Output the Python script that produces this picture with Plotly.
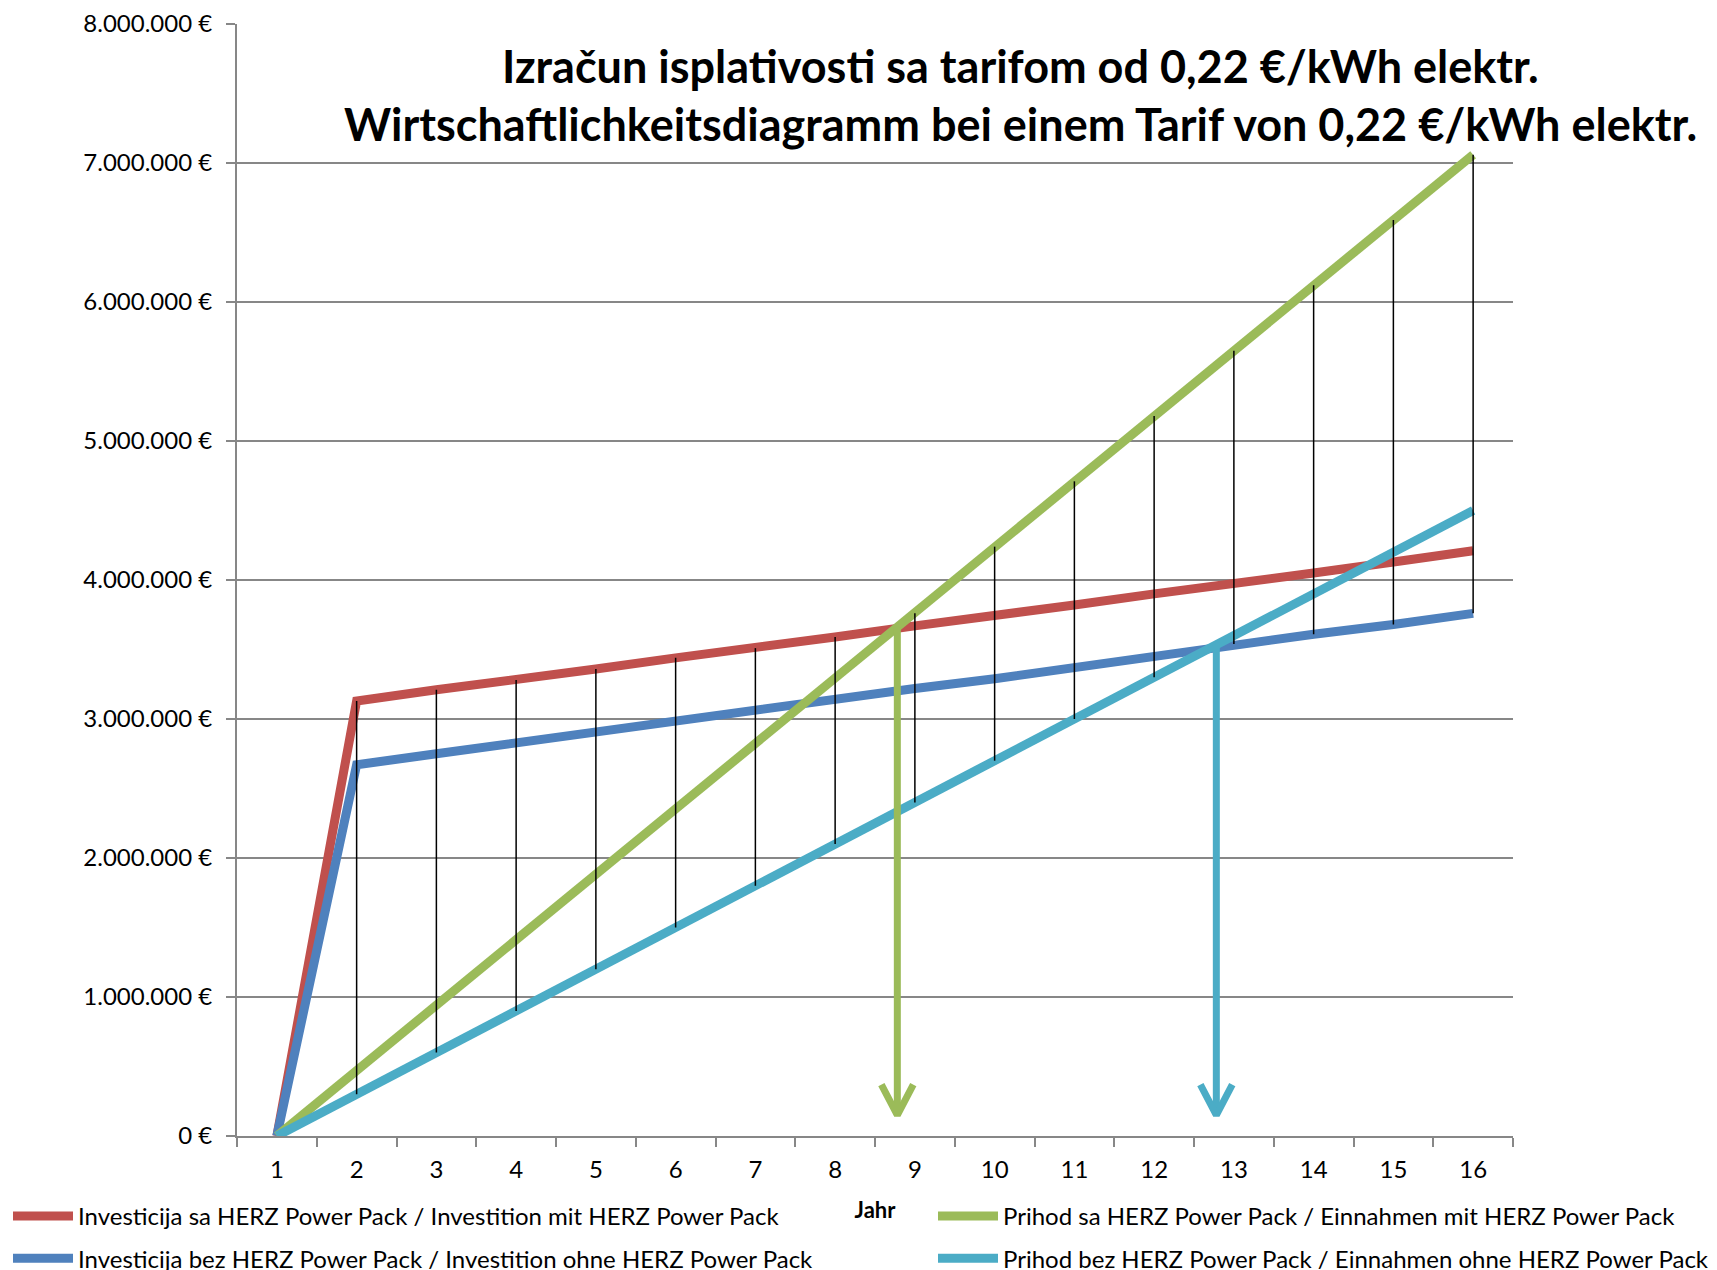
import numpy as np
import plotly.graph_objects as go

years = list(range(1, 17))

inv_with = [0, 3130000, 3210000, 3280000, 3360000, 3440000, 3510000, 3590000,
            3670000, 3740000, 3820000, 3900000, 3970000, 4050000, 4130000, 4210000]
inv_without = [0, 2670000, 2750000, 2830000, 2900000, 2980000, 3060000, 3140000,
               3220000, 3290000, 3370000, 3450000, 3540000, 3610000, 3680000, 3760000]
rev_with = [0, 470000, 940000, 1410000, 1880000, 2350000, 2820000, 3290000,
            3760000, 4240000, 4710000, 5180000, 5650000, 6120000, 6590000, 7060000]
rev_without = [0, 300000, 600000, 900000, 1200000, 1500000, 1800000, 2100000,
               2400000, 2700000, 3000000, 3300000, 3600000, 3900000, 4200000, 4500000]

# break-even years marked by the arrows
breakeven_years = [8.78, 12.78]

names = {
    "inv_with": "Investicija sa HERZ Power Pack / Investition mit HERZ Power Pack",
    "inv_without": "Investicija bez HERZ Power Pack / Investition ohne HERZ Power Pack",
    "rev_with": "Prihod sa HERZ Power Pack / Einnahmen mit HERZ Power Pack",
    "rev_without": "Prihod bez HERZ Power Pack / Einnahmen ohne HERZ Power Pack",
}
title1 = "Izračun isplativosti sa tarifom od 0,22 €/kWh elektr."
title2 = "Wirtschaftlichkeitsdiagramm bei einem Tarif von 0,22 €/kWh elektr."
x_title = "Jahr"
y_ticks = [0, 1000000, 2000000, 3000000, 4000000, 5000000, 6000000, 7000000, 8000000]

RED = "#C0504D"
BLUE = "#4F81BD"
GREEN = "#9BBB59"
CYAN = "#4BACC6"
GRID = "#878787"
FONT = "Lato"
W, H = 1717, 1270
OFF = 8  # page body margin
L, R, T, B = 237 - OFF, 212, 24 - OFF, 142

fig = go.Figure()

series = [
    ("inv_with", inv_with, RED, "legend"),
    ("inv_without", inv_without, BLUE, "legend"),
    ("rev_with", rev_with, GREEN, "legend2"),
    ("rev_without", rev_without, CYAN, "legend2"),
]
for key, vals, col, lg in series:
    fig.add_trace(go.Scatter(
        x=years, y=vals, mode="lines", name=names[key],
        line=dict(color=col, width=9), legend=lg, legendgroup=key,
    ))

# high-low lines
hx, hy = [], []
for i, yr in enumerate(years):
    vals = [inv_with[i], inv_without[i], rev_with[i], rev_without[i]]
    if max(vals) == min(vals):
        continue
    hx += [yr, yr, None]
    hy += [max(vals), min(vals), None]
fig.add_trace(go.Scatter(x=hx, y=hy, mode="lines", line=dict(color="black", width=1.5),
                         showlegend=False, hoverinfo="skip"))

# break-even arrows
tip_y = 150000
arm_y = 370000
arm_dx = 0.2
for xb, rev, col in [(breakeven_years[0], rev_with, GREEN),
                     (breakeven_years[1], rev_without, CYAN)]:
    yc = float(np.interp(xb, years, rev))
    fig.add_trace(go.Scatter(x=[xb, xb], y=[yc, tip_y + 20000], mode="lines",
                             line=dict(color=col, width=7), showlegend=False, hoverinfo="skip"))
    fig.add_trace(go.Scatter(x=[xb - arm_dx, xb, xb + arm_dx], y=[arm_y, tip_y, arm_y],
                             mode="lines", line=dict(color=col, width=7),
                             showlegend=False, hoverinfo="skip"))

fig.update_layout(
    width=W, height=H,
    margin=dict(l=L, r=R, t=T, b=B, autoexpand=False),
    paper_bgcolor="white", plot_bgcolor="white",
    font=dict(family=FONT, size=24, color="black"),
    xaxis=dict(
        range=[0.5, 16.5], tickvals=years, ticktext=[str(y) for y in years],
        ticks="", showgrid=False, showline=True, linecolor=GRID, linewidth=2,
        zeroline=False, ticklabelstandoff=11,
        minor=dict(tickvals=[y - 0.5 for y in years] + [16.5], ticks="outside",
                   ticklen=9, tickwidth=2, tickcolor=GRID, showgrid=False),
        title=dict(text="<b>" + x_title + "</b>", font=dict(size=22), standoff=21),
    ),
    yaxis=dict(
        range=[0, 8000000], tickvals=y_ticks,
        ticktext=[f"{v:,}".replace(",", ".") + " €" for v in y_ticks],
        ticks="outside", ticklen=9, tickwidth=2, tickcolor=GRID,
        showgrid=True, gridcolor=GRID, gridwidth=2,
        showline=True, linecolor=GRID, linewidth=2, zeroline=False,
        ticklabelstandoff=9,
    ),
    legend=dict(xref="container", yref="container", x=0.0, y=1 - (1194 - OFF) / H,
                xanchor="left", yanchor="top", orientation="v",
                traceorder="grouped", tracegroupgap=8, itemwidth=60,
                font=dict(size=24), bgcolor="rgba(0,0,0,0)"),
    legend2=dict(xref="container", yref="container", x=(933 - OFF) / W, y=1 - (1194 - OFF) / H,
                 xanchor="left", yanchor="top", orientation="v",
                 traceorder="grouped", tracegroupgap=8, itemwidth=60,
                 font=dict(size=24), bgcolor="rgba(0,0,0,0)"),
    annotations=[
        dict(text="<b>" + title1 + "</b>", xref="paper", yref="paper",
             x=(1020 - OFF - L) / (W - L - R), y=1 - (66 - OFF - T) / (H - T - B),
             xanchor="center", yanchor="middle", showarrow=False,
             font=dict(size=45, family=FONT)),
        dict(text="<b>" + title2 + "</b>", xref="paper", yref="paper",
             x=(1020 - OFF - L) / (W - L - R), y=1 - (124 - OFF - T) / (H - T - B),
             xanchor="center", yanchor="middle", showarrow=False,
             font=dict(size=45, family=FONT)),
    ],
)

fig.write_html("out.html")
